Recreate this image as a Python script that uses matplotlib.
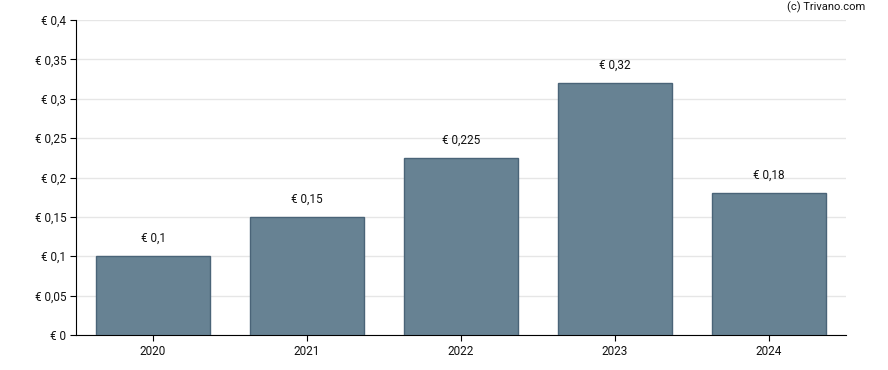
import matplotlib
matplotlib.use("Agg")
import matplotlib.pyplot as plt
import numpy as np

plt.rcParams['font.family'] = ['Roboto', 'DejaVu Sans']

years = ['2020', '2021', '2022', '2023', '2024']
dividends = [0.1, 0.15, 0.225, 0.32, 0.18]
yticks = [0, 0.05, 0.1, 0.15, 0.2, 0.25, 0.3, 0.35, 0.4]


def euro(v):
    s = ('%g' % v).replace('.', ',')
    return '€ ' + s


fig = plt.figure(figsize=(8.88, 3.7), dpi=100)
ax = fig.add_axes([76/888, 1-335/370, 770/888, 315/370])

x = np.arange(len(years))
ax.bar(x, dividends, width=0.745, color='#678293', edgecolor='#4a6478', linewidth=1, zorder=3)
for xi, v in zip(x, dividends):
    ax.annotate(euro(v), (xi, v), xytext=(0, 8), textcoords='offset points',
                ha='center', va='bottom', fontsize=8.5, color='#111111')

ax.set_xlim(-0.5, 4.5)
ax.set_ylim(0, 0.4)
ax.set_xticks(x)
ax.set_xticklabels(years, fontsize=8.5, color='#111111')
ax.set_yticks(yticks)
ax.set_yticklabels([euro(v) for v in yticks], fontsize=8.5, color='#111111')
ax.grid(axis='y', color='#e6e6e6', linewidth=1, zorder=0)
ax.spines['top'].set_visible(False)
ax.spines['right'].set_visible(False)
ax.spines['left'].set_color('black')
ax.spines['bottom'].set_color('black')
ax.tick_params(axis='both', length=4, color='black', pad=3)

fig.text(865/888, 1-7/370, '(c) Trivano.com', ha='right', va='center', fontsize=8, color='#111111')

fig.savefig('out.png', dpi=100)
